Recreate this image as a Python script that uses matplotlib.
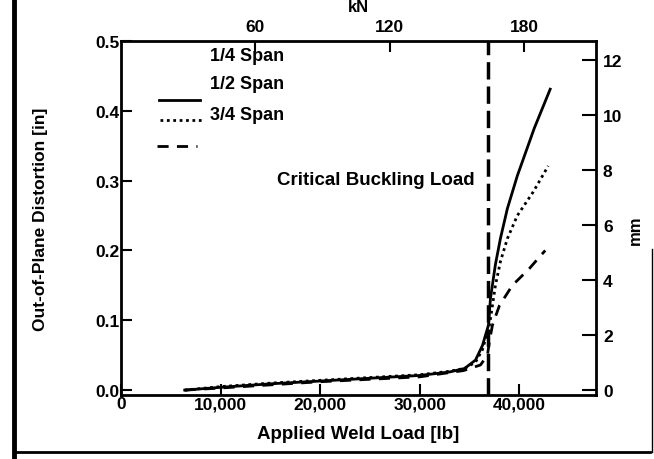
import matplotlib.pyplot as plt
import numpy as np
from matplotlib.lines import Line2D

plt.rcParams['font.family'] = ['Liberation Sans', 'DejaVu Sans']
plt.rcParams['font.weight'] = 'bold'

# data, load in lb, distortion in inches
load_quarter = [6400, 10000, 15000, 20000, 25000, 30000, 33000, 34500, 35600,
                36300, 36900, 37100, 37600, 38100, 38800, 39800, 41500, 43100]
dist_quarter = [0.0, 0.004, 0.009, 0.013, 0.017, 0.021, 0.026, 0.031, 0.043,
                0.064, 0.093, 0.131, 0.18, 0.217, 0.26, 0.307, 0.375, 0.431]

load_half = [6400, 10000, 15000, 20000, 25000, 30000, 33000, 34500, 35600,
             36300, 37000, 37300, 37600, 38100, 38800, 39800, 41400, 42900]
dist_half = [0.0, 0.005, 0.010, 0.014, 0.018, 0.022, 0.027, 0.031, 0.040,
             0.058, 0.093, 0.121, 0.15, 0.184, 0.217, 0.25, 0.284, 0.321]

load_three = [6400, 10000, 20000, 30000, 34400, 36100, 36800, 37000, 37300,
              38000, 39300, 41000, 42600]
dist_three = [0.0, 0.003, 0.012, 0.019, 0.028, 0.036, 0.05, 0.07, 0.093,
              0.121, 0.15, 0.174, 0.2]

labels = ['1/4 Span', '1/2 Span', '3/4 Span']
critical_load = 36900

xticks = [0, 10000, 20000, 30000, 40000]
xticklabels = ['0', '10,000', '20,000', '30,000', '40,000']
yticks = [0.0, 0.1, 0.2, 0.3, 0.4, 0.5]
kn_ticks = [60, 120, 180]
mm_ticks = [0, 2, 4, 6, 8, 10, 12]

fig = plt.figure(figsize=(6.54, 4.60), dpi=100)
ax = fig.add_axes([121/654, 1-396/460, 475/654, 354/460])

ax.plot(load_quarter, dist_quarter, 'k-', lw=2)
ax.plot(load_half, dist_half, color='k', lw=2, ls=(0, (1, 1.3)))
ax.plot(load_three, dist_three, color='k', lw=2, ls=(0, (4, 3)))
ax.axvline(critical_load, color='k', lw=2.5, ls=(0, (5, 2)))

ax.set_xlim(0, 47700)
ax.set_ylim(-0.007, 0.5)
ax.set_xticks(xticks)
ax.set_xticklabels(xticklabels)
ax.set_yticks(yticks)
ax.set_yticklabels(['%.1f' % v for v in yticks])
ax.tick_params(direction='in', length=8, width=1.5, labelsize=12.5, pad=1)
ax.set_xlabel('Applied Weld Load [lb]', fontsize=13.5, fontweight='bold', labelpad=10)
ax.set_ylabel('Out-of-Plane Distortion [in]', fontsize=12.5, fontweight='bold', labelpad=34)
for s in ax.spines.values():
    s.set_linewidth(2)

top = ax.secondary_xaxis('top', functions=(lambda x: x*0.0044482, lambda k: k/0.0044482))
top.set_xticks(kn_ticks)
top.tick_params(direction='in', length=8, width=1.5, labelsize=12.5, pad=5)
top.set_xlabel('kN', fontsize=12, fontweight='bold', labelpad=6)

right = ax.secondary_yaxis('right', functions=(lambda v: v*25.4, lambda m: m/25.4))
right.set_yticks(mm_ticks)
right.tick_params(direction='in', length=10, width=1.5, labelsize=12.5, pad=5)
right.set_ylabel('mm', fontsize=12, fontweight='bold', labelpad=4)
right.yaxis.label.set_y(0.469)

# hand-drawn style key, labels sit above their samples as in the scan
for lab, ty in zip(labels, [0.958, 0.879, 0.791]):
    ax.text(0.187, ty, lab, transform=ax.transAxes, fontsize=13,
            fontweight='bold', va='center', ha='left')
ax.plot([0.08, 0.166], [0.833, 0.833], 'k-', lw=2, transform=ax.transAxes)
ax.plot([0.082, 0.173], [0.777, 0.777], color='k', lw=2, ls=(0, (1, 1.3)),
        transform=ax.transAxes)
ax.plot([0.076, 0.16], [0.703, 0.703], color='k', lw=2, ls=(0, (4, 3)),
        transform=ax.transAxes)

ax.text(0.745, 0.61, 'Critical Buckling Load', transform=ax.transAxes,
        fontsize=13.5, fontweight='bold', ha='right', va='center')

# page frame from the scan
fig.add_artist(Line2D([14/654, 14/654], [0, 1], color='k', lw=3.5))
fig.add_artist(Line2D([14/654, 650/654], [1-453/460, 1-453/460], color='k', lw=2))
fig.add_artist(Line2D([652/654, 652/654], [1-453/460, 1-250/460], color='k', lw=1))

fig.savefig('out.png', dpi=100)
